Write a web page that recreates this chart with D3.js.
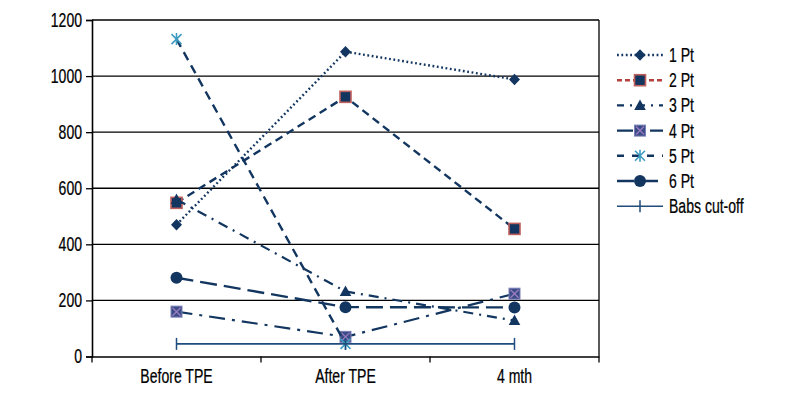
<!DOCTYPE html>
<html><head><meta charset="utf-8">
<script src="https://cdn.jsdelivr.net/npm/d3@7"></script>
<style>body{margin:0;background:#fff}svg{display:block}</style>
</head><body><svg id="c" width="800" height="400"></svg>
<script>
const categories = ["Before TPE", "After TPE", "4 mth"];
const seriesNames = ["1 Pt", "2 Pt", "3 Pt", "4 Pt", "5 Pt", "6 Pt", "Babs cut-off"];
const pt1 = [470, 1087, 988];
const pt2 = [548, 926, 455];
const pt3 = [560, 232, 128];
const pt4 = [160, 70, 224];
const pt5 = [1132, 45, null];
const pt6 = [281, 176, 175];
const babs = [45, 45, 45];
const yTicks = [0, 200, 400, 600, 800, 1000, 1200];

const NAVY = "#12365f";
const FONT = "'Liberation Sans',Arial,sans-serif";
const FS = 19.5, SX = 0.72;
const styles = [
  {vals: pt1, dash: "1.8,2.6", cap: "butt", width: 2.4, marker: "diamond", lcol: NAVY, ldash: "1.8,2.6"},
  {vals: pt2, dash: "8,5", cap: "butt", width: 2.4, marker: "square", lcol: NAVY, legendCol: "#b5413f", ldash: "5,3"},
  {vals: pt3, dash: "10,6,2,6", cap: "butt", width: 2.2, marker: "triangle", lcol: NAVY, ldash: "7,6,2,6"},
  {vals: pt4, dash: "16,7,3,7", cap: "butt", width: 2.2, marker: "xsquare", lcol: NAVY, ldash: "16,7,3,7"},
  {vals: pt5, dash: "9,6", cap: "butt", width: 2.4, marker: "asterisk", lcol: NAVY, ldash: "7,8"},
  {vals: pt6, dash: "17,7", cap: "butt", width: 2.4, marker: "circle", lcol: NAVY, ldash: "17,7"},
  {vals: babs, dash: null, cap: "butt", width: 1.6, marker: "plus", lcol: "#1f4d7d", ldash: null}
];

const svg = d3.select("#c");
const pLeft = 92, pRight = 599, pTop = 20, pBottom = 356.5;
const x = d3.scaleBand().domain(categories).range([pLeft, pRight]);
const y = d3.scaleLinear().domain([0, 1200]).range([pBottom, pTop]);

svg.append("g").selectAll("line").data(yTicks.filter(d => d > 0)).join("line")
  .attr("x1", pLeft).attr("x2", pRight).attr("y1", d => y(d)).attr("y2", d => y(d))
  .attr("stroke", "#000").attr("stroke-width", 1.3);
svg.append("line").attr("x1", pRight).attr("x2", pRight).attr("y1", pTop).attr("y2", pBottom)
  .attr("stroke", "#000").attr("stroke-width", 1.3);

function condense(sel) {
  sel.each(function() {
    const t = d3.select(this);
    const tx = +t.attr("x") || 0, ty = +t.attr("y") || 0;
    t.attr("x", 0).attr("y", 0).attr("transform", `translate(${tx},${ty}) scale(${SX},1)`);
  });
}

const ya = svg.append("g").attr("transform", `translate(${pLeft},0)`)
  .call(d3.axisLeft(y).tickValues(yTicks).tickSize(6).tickPadding(4).tickFormat(d3.format("d")));
ya.select(".domain").attr("stroke", "#000").attr("stroke-width", 1.6);
ya.selectAll(".tick line").attr("stroke", "#000").attr("stroke-width", 1.3);
ya.selectAll("text").attr("font-family", FONT).attr("font-size", FS).attr("fill", "#000")
  .attr("stroke", "#000").attr("stroke-width", 0.25).call(condense);

const xa = svg.append("g").attr("transform", `translate(0,${pBottom})`)
  .call(d3.axisBottom(x).tickSize(0).tickPadding(13));
xa.select(".domain").attr("stroke", "#000").attr("stroke-width", 1.6);
xa.selectAll("text").attr("font-family", FONT).attr("font-size", FS).attr("fill", "#000")
  .attr("stroke", "#000").attr("stroke-width", 0.25).call(condense);
const bounds = [pLeft].concat(categories.map(c => x(c) + x.bandwidth()));
svg.append("g").selectAll("line").data(bounds).join("line")
  .attr("x1", d => d).attr("x2", d => d).attr("y1", pBottom).attr("y2", pBottom + 6)
  .attr("stroke", "#000").attr("stroke-width", 1.3);

function drawMarker(g, type, cx, cy, color) {
  const s = g.append("g").attr("transform", `translate(${cx},${cy})`);
  if (type === "diamond") {
    s.append("path").attr("d", "M0,-5.8L5.5,0L0,5.8L-5.5,0Z").attr("fill", NAVY);
  } else if (type === "square") {
    s.append("rect").attr("x", -5.5).attr("y", -5.5).attr("width", 11).attr("height", 11)
      .attr("fill", NAVY).attr("stroke", "#c0605c").attr("stroke-width", 1.6);
  } else if (type === "triangle") {
    s.append("path").attr("d", "M0,-6L5.8,4.5L-5.8,4.5Z").attr("fill", NAVY);
  } else if (type === "xsquare") {
    s.append("rect").attr("x", -5.5).attr("y", -5.5).attr("width", 11).attr("height", 11)
      .attr("fill", "#3b4c86").attr("stroke", "#7c80b8").attr("stroke-width", 1);
    s.append("path").attr("d", "M-4,-4L4,4M-4,4L4,-4").attr("stroke", "#9a7cc0").attr("stroke-width", 1.4);
  } else if (type === "asterisk") {
    s.append("path").attr("d", "M-5,-5L5,5M-5,5L5,-5M0,-6L0,6").attr("stroke", "#3f9cc0").attr("stroke-width", 1.6).attr("fill", "none");
  } else if (type === "circle") {
    s.append("circle").attr("r", 6).attr("fill", NAVY);
  } else if (type === "plus") {
    s.append("path").attr("d", "M0,-6L0,6").attr("stroke", color).attr("stroke-width", 1.5);
  }
}

const line = d3.line().defined(d => d.v != null).x(d => x(d.c) + x.bandwidth() / 2).y(d => y(d.v));
styles.forEach((st, i) => {
  const data = categories.map((c, j) => ({c, v: st.vals[j]}));
  const g = svg.append("g");
  g.append("path").datum(data).attr("d", line).attr("fill", "none")
    .attr("stroke", st.lcol).attr("stroke-width", st.width)
    .attr("stroke-dasharray", st.dash).attr("stroke-linecap", st.cap);
  data.filter(d => d.v != null).forEach(d => drawMarker(g, st.marker, x(d.c) + x.bandwidth() / 2, y(d.v), st.lcol));
});

const lg = svg.append("g");
seriesNames.forEach((name, i) => {
  const st = styles[i];
  const yy = 55 + i * 25.2;
  lg.append("line").attr("x1", 617).attr("x2", 663).attr("y1", yy).attr("y2", yy)
    .attr("stroke", st.legendCol || st.lcol).attr("stroke-width", st.width)
    .attr("stroke-dasharray", st.ldash).attr("stroke-linecap", st.cap);
  drawMarker(lg, st.marker, 640, yy, st.lcol);
  lg.append("text").attr("x", 669).attr("y", yy).attr("dy", "0.36em")
    .attr("font-family", FONT).attr("font-size", FS).attr("fill", "#000")
    .attr("stroke", "#000").attr("stroke-width", 0.25).text(name).call(condense);
});
</script></body></html>
